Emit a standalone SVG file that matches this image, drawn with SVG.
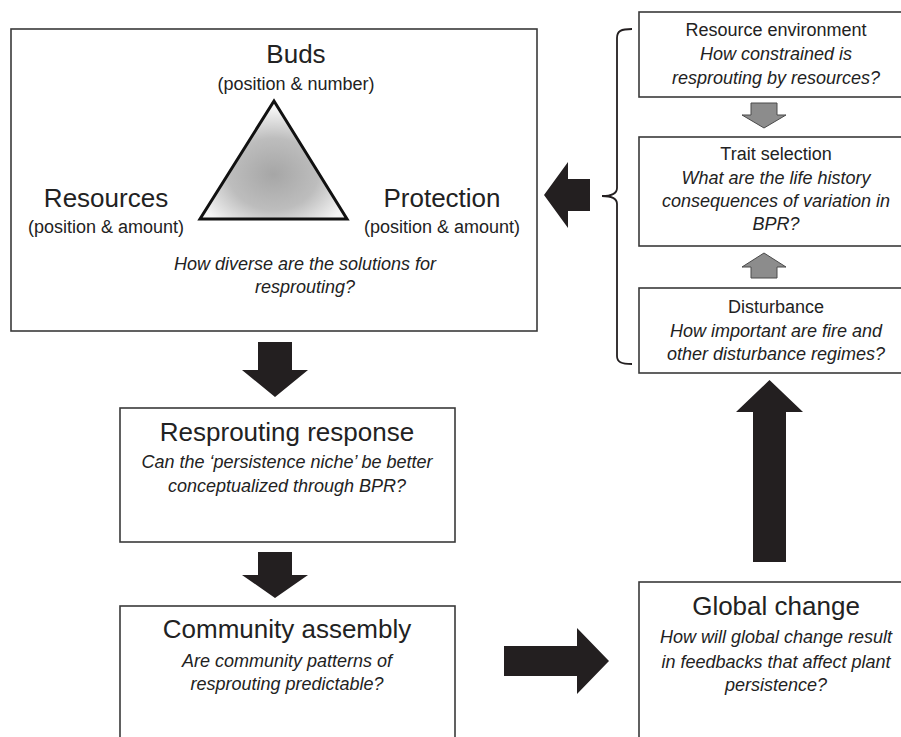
<svg xmlns="http://www.w3.org/2000/svg" width="901" height="737" viewBox="0 0 901 737">
  <style>
    .box { fill: #ffffff; stroke: #3a3a3a; stroke-width: 1.6; }
    .t { font-family: "Liberation Sans", Arial, sans-serif; fill: #222222; text-anchor: middle; }
    .big { font-size: 26px; }
    .sm { font-size: 18px; }
    .it { font-size: 18px; font-style: italic; }
    .bigarrow { fill: #231f20; }
    .grayarrow { fill: #8c8c8c; stroke: #4a4a4a; stroke-width: 1; }
    .brace { fill: none; stroke: #231f20; stroke-width: 1.8; }
  </style>
  <defs>
    <radialGradient id="triShade" cx="0.5" cy="0.62" r="0.55">
      <stop offset="0" stop-color="#a6a6a6"/>
      <stop offset="0.55" stop-color="#bdbdbd"/>
      <stop offset="1" stop-color="#f4f4f4"/>
    </radialGradient>
  </defs>
  <rect width="901" height="737" fill="#ffffff"/>

  <!-- Buds / Resources / Protection -->
  <g id="bpr">
    <rect class="box" x="11" y="29" width="526" height="302"/>
    <text class="t big" x="296" y="63">Buds</text>
    <text class="t sm" x="296" y="90">(position &amp; number)</text>
    <polygon points="274,101 200,219 347,219" fill="url(#triShade)" stroke="#111111" stroke-width="3" stroke-linejoin="miter"/>
    <text class="t big" x="106" y="207">Resources</text>
    <text class="t sm" x="106" y="233">(position &amp; amount)</text>
    <text class="t big" x="442" y="207">Protection</text>
    <text class="t sm" x="442" y="233">(position &amp; amount)</text>
    <text class="t it" x="305" y="270">How diverse are the solutions for</text>
    <text class="t it" x="305" y="293">resprouting?</text>
  </g>

  <!-- Resprouting response -->
  <g id="response">
    <rect class="box" x="120" y="408" width="335" height="134"/>
    <text class="t big" x="287" y="441">Resprouting response</text>
    <text class="t it" x="287" y="468">Can the ‘persistence niche’ be better</text>
    <text class="t it" x="287" y="492">conceptualized through BPR?</text>
  </g>

  <!-- Community assembly -->
  <g id="community">
    <rect class="box" x="120" y="606" width="335" height="160"/>
    <text class="t big" x="287" y="638">Community assembly</text>
    <text class="t it" x="287" y="667">Are community patterns of</text>
    <text class="t it" x="287" y="690">resprouting predictable?</text>
  </g>

  <!-- Global change -->
  <g id="global">
    <rect class="box" x="639" y="582" width="290" height="190"/>
    <text class="t big" x="776" y="615">Global change</text>
    <text class="t it" x="776" y="643">How will global change result</text>
    <text class="t it" x="776" y="668">in feedbacks that affect plant</text>
    <text class="t it" x="776" y="691">persistence?</text>
  </g>

  <!-- Resource environment -->
  <g id="resource-env">
    <rect class="box" x="639" y="12" width="290" height="85"/>
    <text class="t sm" x="776" y="36">Resource environment</text>
    <text class="t it" x="776" y="60">How constrained is</text>
    <text class="t it" x="776" y="84">resprouting by resources?</text>
  </g>

  <!-- Trait selection -->
  <g id="trait">
    <rect class="box" x="639" y="137" width="290" height="109"/>
    <text class="t sm" x="776" y="160">Trait selection</text>
    <text class="t it" x="776" y="184">What are the life history</text>
    <text class="t it" x="776" y="207">consequences of variation in</text>
    <text class="t it" x="776" y="230">BPR?</text>
  </g>

  <!-- Disturbance -->
  <g id="disturbance">
    <rect class="box" x="639" y="288" width="290" height="85"/>
    <text class="t sm" x="776" y="313">Disturbance</text>
    <text class="t it" x="776" y="337">How important are fire and</text>
    <text class="t it" x="776" y="360">other disturbance regimes?</text>
  </g>

  <!-- Connectors -->
  <g id="connectors">
    <!-- BPR down to response -->
    <polygon class="bigarrow" points="258,342 292,342 292,370 308,370 275,397 242,370 258,370"/>
    <!-- response down to community -->
    <polygon class="bigarrow" points="258,552 292,552 292,575 308,575 275,598 242,575 258,575"/>
    <!-- community to global change -->
    <polygon class="bigarrow" points="504,646 577,646 577,628 609,661 577,694 577,676 504,676"/>
    <!-- global change up to disturbance -->
    <polygon class="bigarrow" points="753,562 753,412 736,412 769.5,380 803,412 786,412 786,562"/>
    <!-- bracketed group back to BPR -->
    <polygon class="bigarrow" points="590,179 568,179 568,162 544,195 568,228 568,211 590,211"/>
    <!-- resource environment down to trait selection -->
    <polygon class="grayarrow" points="751,103 777,103 777,115 786,115 764,128 742,115 751,115"/>
    <!-- disturbance up to trait selection -->
    <polygon class="grayarrow" points="751,278 751,267 742,267 764,253 786,267 777,267 777,278"/>
    <!-- curly bracket grouping the three right-hand boxes -->
    <path class="brace" d="M632,29 C621,29 617,31 617,38 L617,188 C617,193 613,196 602,196 C613,196 617,199 617,204 L617,356 C617,362 621,364 632,364"/>
  </g>
</svg>
